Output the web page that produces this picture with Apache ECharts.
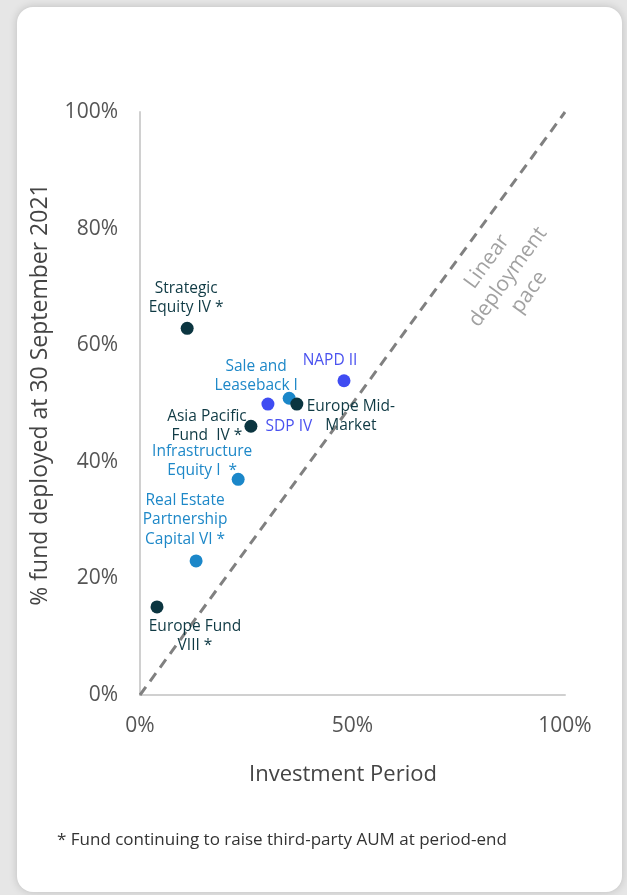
<!DOCTYPE html>
<html><head><meta charset="utf-8">
<script src="https://cdn.jsdelivr.net/npm/echarts@6/dist/echarts.min.js"></script>
<style>
html,body{margin:0;padding:0;width:627px;height:895px;background:#e6e6e6;overflow:hidden;}
#card{position:absolute;left:17px;top:7px;width:605px;height:885px;background:#fff;border-radius:16px;box-shadow:0 0 8px rgba(0,0,0,0.18);}
#chart{position:absolute;left:0;top:0;width:627px;height:895px;}
</style></head>
<body><div id="card"></div><div id="chart"></div>
<script>
// Data
const funds = ["Strategic\nEquity IV *","NAPD II","Sale and\nLeaseback I","SDP IV","Europe Mid-\nMarket","Asia Pacific\nFund  IV *","Infrastructure\nEquity I  *","Real Estate\nPartnership\nCapital VI *","Europe Fund\nVIII *"];
const investmentPeriod = [11.1, 48.0, 35.1, 30.1, 36.9, 26.1, 23.1, 13.2, 4.0];
const fundDeployed = [62.9, 53.9, 50.9, 49.9, 49.9, 46.1, 37.0, 23.0, 15.1];
const fundGroup = ["dark","purple","light","purple","dark","dark","light","light","dark"];
const xTicks = [0, 50, 100];
const yTicks = [0, 20, 40, 60, 80, 100];
const paceLine = [[0,0],[100,100]];
const paceLabel = "Linear\ndeployment\npace";
const paceLabelAt = [86.6, 71.7];
const footnote = "* Fund continuing to raise third-party AUM at period-end";

// Styles
const colors = {dark:"#0b3540", light:"#1b87c9", purple:"#3f4cf2"};
const labelColors = {dark:"#0f3a44", light:"#1e88c8", purple:"#4a52ef"};
const labelOffsets = [[-1,-30],[-14,-20],[-33,-22],[21,22],[54,12],[-44,0],[-36,-18],[-11,-41],[38,29]];
const FONT = "Open Sans";

const chart = echarts.init(document.getElementById('chart'));
const scatterData = funds.map((n,i)=>({
  name:n, value:[investmentPeriod[i], fundDeployed[i]],
  itemStyle:{color:colors[fundGroup[i]], opacity:1},
  label:{show:true, formatter:n, position:'inside', offset:labelOffsets[i], color:labelColors[fundGroup[i]],
    fontSize:15.5, lineHeight:19.5, fontFamily:FONT, align:'center', verticalAlign:'middle'}
}));
chart.setOption({
  animation:false,
  grid:{left:140,right:62,top:112,bottom:200,containLabel:false,outerBoundsMode:'none'},
  xAxis:{type:'value',min:0,max:100,interval:50,
    axisLine:{show:true,lineStyle:{color:'#d0d0d0',width:2}},axisTick:{show:false},splitLine:{show:false},
    axisLabel:{formatter:v=>xTicks.includes(v)?v+'%':'',color:'#555',fontSize:21,fontFamily:FONT,margin:21},
    name:'Investment Period',nameLocation:'middle',nameGap:69,nameMoveOverlap:false,
    nameTextStyle:{color:'#444',fontSize:22,fontFamily:FONT,padding:[0,19,0,0]}},
  yAxis:{type:'value',min:0,max:100,interval:20,
    axisLine:{show:true,lineStyle:{color:'#d0d0d0',width:2}},axisTick:{show:false},splitLine:{show:false},
    axisLabel:{formatter:v=>yTicks.includes(v)?v+'%':'',color:'#555',fontSize:21,fontFamily:FONT,margin:22},
    name:'% fund deployed at 30 September 2021',nameLocation:'middle',nameGap:88,nameMoveOverlap:false,
    nameTextStyle:{color:'#444',fontSize:23,fontFamily:FONT,padding:[0,0,0,18]}},
  series:[
    {type:'line',data:paceLine,symbol:'none',silent:true,z:1,
      lineStyle:{color:'#808080',width:3,type:[10,7]}},
    {type:'scatter',data:[{value:paceLabelAt}],symbolSize:0,silent:true,
      label:{show:true,position:'inside',formatter:paceLabel,rotate:54,color:'#8a8a8a',fontSize:21,lineHeight:26,fontFamily:FONT,align:'center',verticalAlign:'middle'}},
    {type:'scatter',data:scatterData,symbolSize:13,z:3}
  ],
  graphic:[{type:'text',left:57,top:832,style:{text:footnote,fill:'#333',fontSize:17,fontFamily:FONT}}]
});
</script></body></html>
